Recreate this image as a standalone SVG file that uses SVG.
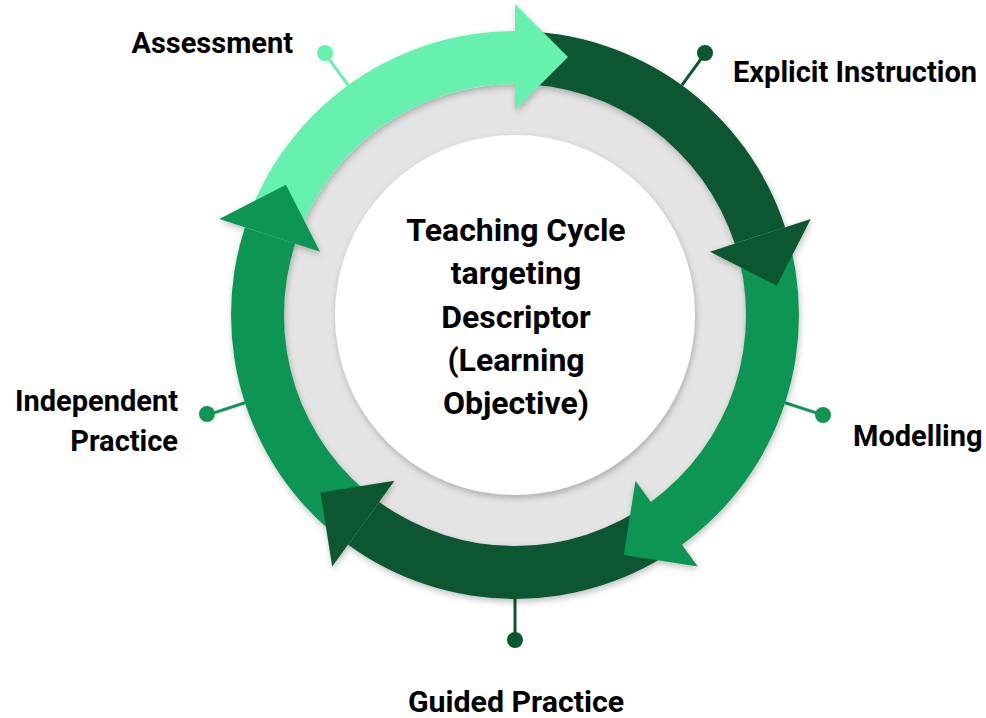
<svg xmlns="http://www.w3.org/2000/svg" width="986" height="718" viewBox="0 0 986 718">
<defs>
<style>
.lbl{font-family:Roboto,"Liberation Sans",Arial,sans-serif;font-weight:700;font-size:29px;fill:#000}
.ctr{font-family:Roboto,"Liberation Sans",Arial,sans-serif;font-weight:700;font-size:32px;fill:#000;text-anchor:middle}
.light{fill:#66F2AE}
.mid{fill:#109652}
.dark{fill:#0A5730}
.ldr{stroke-width:3;fill:none}
</style>
<filter id="sh" x="-10%" y="-10%" width="120%" height="120%">
<feDropShadow dx="1" dy="3" stdDeviation="3" flood-color="#000" flood-opacity="0.25"/>
</filter>
</defs>
<rect width="986" height="718" fill="#fff"/>

<g id="connectors">
<line class="ldr" x1="681.93" y1="85.24" x2="705.44" y2="52.88" stroke="#0A5730"/>
<circle cx="705" cy="53" r="8" class="dark"/>
<line class="ldr" x1="785.10" y1="402.76" x2="823.14" y2="415.12" stroke="#109652"/>
<circle cx="823" cy="415" r="8" class="mid"/>
<line class="ldr" x1="515" y1="599" x2="515" y2="640" stroke="#0A5730"/>
<circle cx="515" cy="640" r="8" class="dark"/>
<line class="ldr" x1="244.90" y1="402.76" x2="206.86" y2="415.12" stroke="#109652"/>
<circle cx="207" cy="414" r="8" class="mid"/>
<line class="ldr" x1="348.07" y1="85.24" x2="324.56" y2="52.88" stroke="#66F2AE"/>
<circle cx="325" cy="53" r="8" class="light"/>
</g>

<g id="hub">
<circle cx="515" cy="315" r="231" fill="#E4E4E4"/>
<circle cx="515" cy="315" r="180" fill="#fff" filter="url(#sh)"/>
<text class="ctr" x="516" y="241">Teaching Cycle</text>
<text class="ctr" x="516" y="284">targeting</text>
<text class="ctr" x="516" y="328">Descriptor</text>
<text class="ctr" x="516" y="371">(Learning</text>
<text class="ctr" x="516" y="414">Objective)</text>
</g>

<g id="ring" filter="url(#sh)">
<g id="explicit-instruction">
<path class="dark" d="M515,31 A284,284 0 0 1 785.10,227.24 L734.69,243.62 A231,231 0 0 0 515,84 Z"/>
</g>
<g id="modelling">
<path class="mid" d="M785.10,227.24 A284,284 0 0 1 681.93,544.76 L650.78,501.88 A231,231 0 0 0 734.69,243.62 Z"/>
</g>
<g id="guided-practice">
<path class="dark" d="M681.93,544.76 A284,284 0 0 1 348.07,544.76 L379.22,501.88 A231,231 0 0 0 650.78,501.88 Z"/>
</g>
<g id="independent-practice">
<path class="mid" d="M348.07,544.76 A284,284 0 0 1 244.90,227.24 L295.31,243.62 A231,231 0 0 0 379.22,501.88 Z"/>
</g>
<g id="assessment">
<path class="light" d="M244.90,227.24 A284,284 0 0 1 515,31 L515,84 A231,231 0 0 0 295.31,243.62 Z"/>
</g>
<g id="arrowheads">
<polygon class="light" points="515,4 568,57 515,110"/>
<polygon class="dark" points="810.78,218.90 776.75,285.68 709.97,251.65"/>
<polygon class="mid" points="697.80,566.60 623.77,554.88 635.50,480.85"/>
<polygon class="dark" points="332.20,566.60 320.47,492.58 394.50,480.85"/>
<polygon class="mid" points="219.22,218.90 286.01,184.86 320.03,251.65"/>
</g>
</g>

<g id="labels">
<text class="lbl" x="293" y="53" text-anchor="end">Assessment</text>
<text class="lbl" x="733" y="82">Explicit Instruction</text>
<text class="lbl" x="853" y="446">Modelling</text>
<text class="lbl" x="516" y="712" text-anchor="middle" style="font-size:30.3px">Guided Practice</text>
<text class="lbl" x="178" y="411" text-anchor="end">Independent</text>
<text class="lbl" x="178" y="451" text-anchor="end">Practice</text>
</g>
</svg>
